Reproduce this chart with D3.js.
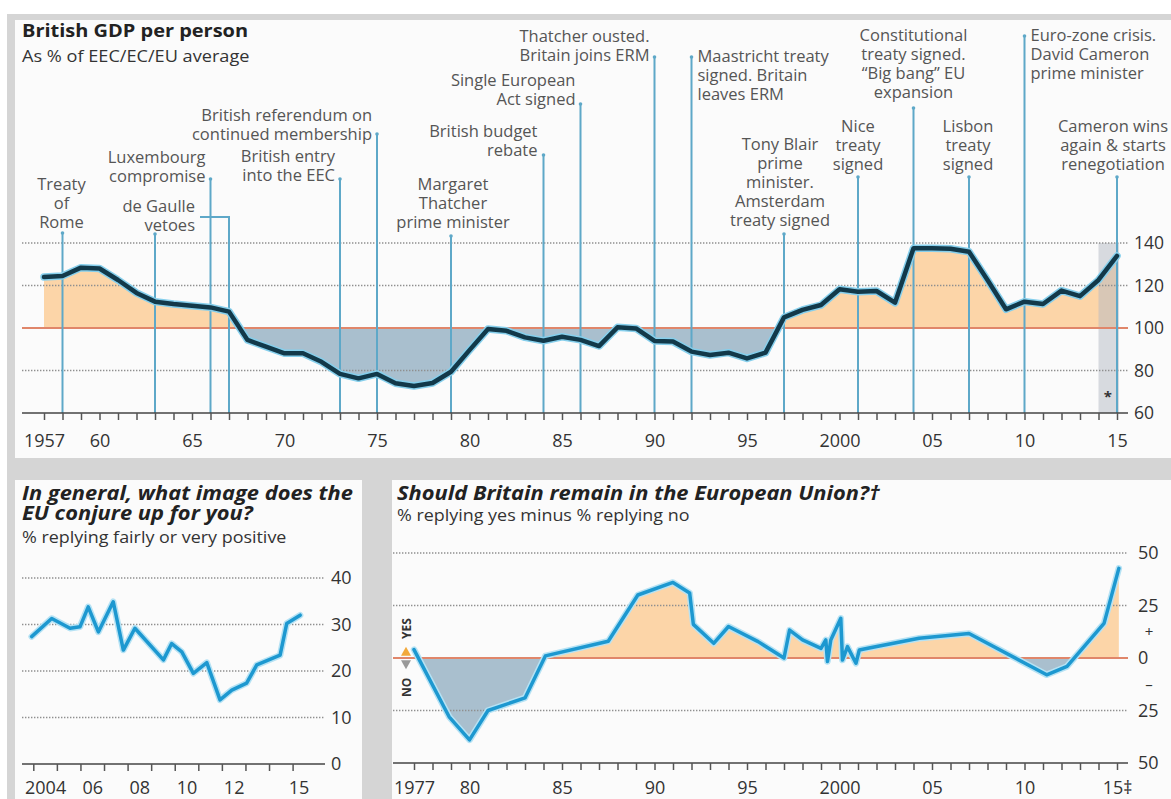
<!DOCTYPE html>
<html>
<head>
<meta charset="utf-8">
<script src="https://cdn.jsdelivr.net/npm/d3@7"></script>
<style>
  body { margin: 0; background: #fff; }
  svg { display: block; }
  text { font-family: "Open Sans", sans-serif; }
</style>
</head>
<body>
<div id="chart"></div>
<script>
// ---- data ----

const gdpYears = [1957, 1958, 1959, 1960, 1961, 1962, 1963, 1964, 1965, 1966,
  1967, 1968, 1969, 1970, 1971, 1972, 1973, 1974, 1975, 1976,
  1977, 1978, 1979, 1980, 1981, 1982, 1983, 1984, 1985, 1986,
  1987, 1988, 1989, 1990, 1991, 1992, 1993, 1994, 1995, 1996,
  1997, 1998, 1999, 2000, 2001, 2002, 2003, 2004, 2005, 2006,
  2007, 2008, 2009, 2010, 2011, 2012, 2013, 2014, 2015];
const gdpValues = [124, 124.5, 128.4, 128, 122.6, 116.5, 112.4, 111.3, 110.5, 109.7,
  107.7, 94.4, 91.2, 88.1, 88.1, 84.1, 78.4, 76.3, 78.4, 74,
  72.7, 74.1, 79.4, 89.6, 99.5, 98.7, 95.6, 94, 95.9, 94.4,
  91.5, 100.3, 99.8, 93.9, 93.6, 88.9, 87.3, 88.4, 85.7, 88.4,
  105, 108.5, 110.8, 118.2, 117.1, 117.4, 111.9, 137.5, 137.5, 137.3,
  135.9, 122.6, 108.8, 112.4, 111.3, 117.6, 115, 122.6, 133.9];
const gdpTickYears = [1957, 1960, 1965, 1970, 1975, 1980, 1985, 1990, 1995, 2000, 2005, 2010, 2015];
const gdpTickLabels = ["1957", "60", "65", "70", "75", "80", "85", "90", "95", "2000", "05", "10", "15"];
const gdpYTicks = [60, 80, 100, 120, 140];

const eventYears = [1958, 1963, 1966, 1973, 1975, 1979, 1984, 1986, 1990, 1992, 1997, 2001, 2004, 2007, 2010, 2015];
const eventLabels = [
  ["Treaty", "of", "Rome"],
  ["de Gaulle", "vetoes"],
  ["Luxembourg", "compromise"],
  ["British entry", "into the EEC"],
  ["British referendum on", "continued membership"],
  ["Margaret", "Thatcher", "prime minister"],
  ["British budget", "rebate"],
  ["Single European", "Act signed"],
  ["Thatcher ousted.", "Britain joins ERM"],
  ["Maastricht treaty", "signed. Britain", "leaves ERM"],
  ["Tony Blair", "prime", "minister.", "Amsterdam", "treaty signed"],
  ["Nice", "treaty", "signed"],
  ["Constitutional", "treaty signed.", "\u201CBig bang\u201D EU", "expansion"],
  ["Lisbon", "treaty", "signed"],
  ["Euro-zone crisis.", "David Cameron", "prime minister"],
  ["Cameron wins", "again & starts", "renegotiation"]
];
const deGaulleSecondVeto = 1967;

const imageDates = [2003.93, 2004.78, 2005.56, 2005.98, 2006.33, 2006.76, 2007.39, 2007.82, 2008.31, 2009.52,
  2009.87, 2010.3, 2010.79, 2011.36, 2011.92, 2012.42, 2013.05, 2013.48, 2014.47, 2014.75, 2015.32];
const imageValues = [27.4, 31.3, 29.2, 29.5, 33.8, 28.4, 34.9, 24.5, 29.2, 22.4,
  25.9, 24.1, 19.5, 21.8, 13.8, 15.9, 17.4, 21.3, 23.4, 30.2, 32];
const imageTickPos = [2004.5, 2006.5, 2008.5, 2010.5, 2012.5, 2015.25];
const imageTickLabels = ["2004", "06", "08", "10", "12", "15"];
const imageYTicks = [0, 10, 20, 30, 40];

const remainDates = [1977, 1978.9, 1980, 1981, 1983, 1984.1, 1987.5, 1989.1, 1991, 1991.9,
  1992.1, 1993.2, 1994, 1995.6, 1997, 1997.3, 1998, 1999, 1999.26, 1999.35,
  1999.53, 2000.07, 2000.16, 2000.43, 2000.89, 2001.07, 2001.6, 2004.3, 2007, 2011.2,
  2012.3, 2014.3, 2015.1];
const remainValues = [4, -28, -39, -25, -19, 1, 8, 30, 36, 31,
  16, 7, 15, 7.8, 0, 13.3, 8.6, 4.6, 8.6, -1.7,
  8.6, 18.9, -1, 5.4, -2.5, 3.8, 4.8, 9.4, 11.7, -8,
  -4, 16.5, 42.7];
const remainTickYears = [1977, 1980, 1985, 1990, 1995, 2000, 2005, 2010, 2015];
const remainTickLabels = ["1977", "80", "85", "90", "95", "2000", "05", "10", "15\u2021"];
const remainYTicks = [50, 25, 0, -25, -50];
const remainYLabels = ["50", "25", "0", "25", "50"];

// ---- layout ----

const W = 1171, H = 799;
const orange = "#fcd5a8", blueFill = "#a9bfce", zeroRed = "#e0866a";
const evColor = "#5ea8c8";

// placement of each event label: anchor, x offset from line, first baseline, top of line
const eventLayout = [
  {anchor: "middle", dx: -1, y0: 190, top: 233},
  {anchor: "end", dx: 40, y0: 212, top: 234},
  {anchor: "end", dx: -5, y0: 163, top: 179},
  {anchor: "end", dx: -5, y0: 162, top: 179},
  {anchor: "end", dx: -5, y0: 121, top: 134},
  {anchor: "middle", dx: 2, y0: 190, top: 236},
  {anchor: "end", dx: -6, y0: 137, top: 155},
  {anchor: "end", dx: -5, y0: 86, top: 104},
  {anchor: "end", dx: -5, y0: 42, top: 57},
  {anchor: "start", dx: 6, y0: 62, top: 57},
  {anchor: "middle", dx: -4, y0: 150, top: 234},
  {anchor: "middle", dx: 0, y0: 132, top: 177},
  {anchor: "middle", dx: 0, y0: 41, top: 108},
  {anchor: "middle", dx: -1, y0: 132, top: 177},
  {anchor: "start", dx: 6, y0: 41, top: 36},
  {anchor: "middle", dx: -4, y0: 132, top: 177}
];

const svg = d3.select("#chart")
  .append("svg")
    .attr("width", W)
    .attr("height", H);

const defs = svg.append("defs");

// background frame and panels
svg.append("rect").attr("width", W).attr("height", H).attr("fill", "#fff");
svg.append("rect").attr("x", 7).attr("y", 14).attr("width", W - 7).attr("height", H - 14).attr("fill", "#d5d5d5");
svg.append("rect").attr("x", 15).attr("y", 20).attr("width", W - 15).attr("height", 438).attr("fill", "#fbfbfb");
svg.append("rect").attr("x", 15).attr("y", 480).attr("width", 347).attr("height", H - 480).attr("fill", "#fbfbfb");
svg.append("rect").attr("x", 392).attr("y", 480).attr("width", W - 392).attr("height", H - 480).attr("fill", "#fbfbfb");

function dotted(g, x1, x2, yy) {
  g.append("line")
      .attr("x1", x1).attr("x2", x2).attr("y1", yy).attr("y2", yy)
      .attr("stroke", "#8f8f8f")
      .attr("stroke-width", 1.6)
      .attr("stroke-dasharray", "1.4 1.6");
}

function solid(g, x1, x2, yy, color, sw) {
  g.append("line")
      .attr("x1", x1).attr("x2", x2).attr("y1", yy).attr("y2", yy)
      .attr("stroke", color)
      .attr("stroke-width", sw);
}

// text that is a little wider than the font draws it
function wideText(g, tx, ty, size, sx, str, bold, italic, color) {
  g.append("text")
      .attr("transform", `translate(${tx},${ty}) scale(${sx},1)`)
      .attr("font-size", size)
      .attr("font-weight", bold ? "bold" : "normal")
      .attr("font-style", italic ? "italic" : "normal")
      .attr("fill", color)
      .text(str);
}

function signedFill(g, xs, ys, dates, values, base, id, yTop, yBottom) {
  const area = d3.area()
      .x((d, i) => xs(dates[i]))
      .y0(ys(base))
      .y1(d => ys(d));
  defs.append("clipPath").attr("id", id + "-up")
    .append("rect").attr("x", 0).attr("y", yTop).attr("width", W).attr("height", ys(base) - yTop);
  defs.append("clipPath").attr("id", id + "-down")
    .append("rect").attr("x", 0).attr("y", ys(base)).attr("width", W).attr("height", yBottom - ys(base));
  g.append("path").datum(values).attr("d", area).attr("fill", orange).attr("clip-path", `url(#${id}-up)`);
  g.append("path").datum(values).attr("d", area).attr("fill", blueFill).attr("clip-path", `url(#${id}-down)`);
}

function drawLine(g, xs, ys, dates, values, color, halo, sw) {
  const line = d3.line()
      .x((d, i) => xs(dates[i]))
      .y(d => ys(d));
  g.append("path").datum(values).attr("d", line)
      .attr("fill", "none").attr("stroke", halo).attr("stroke-width", sw + 3)
      .attr("stroke-linejoin", "round").attr("stroke-linecap", "round");
  g.append("path").datum(values).attr("d", line)
      .attr("fill", "none").attr("stroke", color).attr("stroke-width", sw)
      .attr("stroke-linejoin", "round").attr("stroke-linecap", "round");
}

function styleAxis(g, size, color) {
  g.select(".domain").remove();
  g.selectAll("text")
      .attr("font-family", "Open Sans, sans-serif")
      .attr("font-size", size)
      .attr("fill", color);
}

// ================= top chart =================

const x = d3.scaleLinear().domain([1957, 2015]).range([44, 1117]);
const y = d3.scaleLinear().domain([60, 140]).range([413, 243]);
const upper = svg.append("g");

signedFill(upper, x, y, gdpYears, gdpValues, 100, "gdp", 20, 413);

// forecast band
upper.append("rect")
    .attr("x", x(2014))
    .attr("y", y(140))
    .attr("width", x(2015) - x(2014) + 2)
    .attr("height", y(60) - y(140))
    .attr("fill", "#b4bac3")
    .attr("opacity", 0.5);
upper.append("text")
    .attr("x", x(2014.5))
    .attr("y", 402)
    .attr("text-anchor", "middle")
    .attr("font-size", 15)
    .attr("font-weight", "bold")
    .attr("fill", "#333")
    .text("*");

[80, 120, 140].forEach(v => dotted(upper, 22, 1128, y(v)));
solid(upper, 22, 1128, y(100), zeroRed, 2);

// event lines and labels
eventYears.forEach((yr, i) => {
  const L = eventLayout[i];
  const ex = x(yr);
  upper.append("line")
      .attr("x1", ex).attr("x2", ex)
      .attr("y1", L.top).attr("y2", y(60))
      .attr("stroke", evColor).attr("stroke-width", 2);
  upper.append("circle").attr("cx", ex).attr("cy", L.top).attr("r", 1.8).attr("fill", evColor);
  const t = upper.append("text")
      .attr("text-anchor", L.anchor)
      .attr("font-size", 16.5)
      .attr("fill", "#555");
  eventLabels[i].forEach((s, j) => {
    t.append("tspan").attr("x", ex + L.dx).attr("y", L.y0 + j * 19).text(s);
  });
});
// de Gaulle's second veto shares the label
upper.append("path")
    .attr("d", `M200,217H${x(deGaulleSecondVeto)}V${y(60)}`)
    .attr("fill", "none")
    .attr("stroke", evColor)
    .attr("stroke-width", 2);

drawLine(upper, x, y, gdpYears, gdpValues, "#12394a", "#86cfec", 4.5);

// axis
solid(upper, 22, 1128, y(60), "#444", 1.5);
upper.append("g")
    .attr("transform", `translate(0, ${y(60)})`)
    .call(d3.axisBottom(x).tickValues(gdpYears).tickSize(7).tickSizeOuter(0).tickFormat(""))
    .call(g => { g.select(".domain").remove(); g.selectAll("line").attr("stroke", "#555").attr("stroke-width", 1.5); });
upper.append("g")
    .attr("transform", `translate(0, ${y(60)})`)
    .call(d3.axisBottom(x).tickValues(gdpTickYears).tickSize(0).tickPadding(21)
      .tickFormat((d, i) => gdpTickLabels[i]))
    .call(g => styleAxis(g, 18, "#333"));
upper.append("g")
    .attr("transform", "translate(1134, 0)")
    .call(d3.axisRight(y).tickValues(gdpYTicks).tickSize(0).tickPadding(0))
    .call(g => styleAxis(g, 17.5, "#333"));

wideText(upper, 22, 37, 18, 1.11, "British GDP per person", true, false, "#222");
wideText(upper, 22, 62, 16.5, 1.1, "As % of EEC/EC/EU average", false, false, "#333");

// ================= bottom left =================

const xL = d3.scaleLinear().domain([2004, 2015]).range([33.3, 292.6]);
const yL = d3.scaleLinear().domain([0, 40]).range([764, 578]);
const lower = svg.append("g");

[10, 20, 30, 40].forEach(v => dotted(lower, 22, 325, yL(v)));
solid(lower, 22, 325, yL(0), "#444", 1.5);
lower.append("g")
    .attr("transform", `translate(0, ${yL(0)})`)
    .call(d3.axisBottom(xL).tickValues(d3.range(2004, 2016)).tickSize(7).tickSizeOuter(0).tickFormat(""))
    .call(g => { g.select(".domain").remove(); g.selectAll("line").attr("stroke", "#555").attr("stroke-width", 1.5); });
lower.append("g")
    .attr("transform", `translate(0, ${yL(0)})`)
    .call(d3.axisBottom(xL).tickValues(imageTickPos).tickSize(0).tickPadding(17)
      .tickFormat((d, i) => imageTickLabels[i]))
    .call(g => styleAxis(g, 18, "#333"));
lower.append("g")
    .attr("transform", "translate(331, 0)")
    .call(d3.axisRight(yL).tickValues(imageYTicks).tickSize(0).tickPadding(0))
    .call(g => styleAxis(g, 18, "#333"));

drawLine(lower, xL, yL, imageDates, imageValues, "#1d98d0", "#b5e2f4", 3.5);

wideText(lower, 22, 500, 19, 1.15, "In general, what image does the", true, true, "#222");
wideText(lower, 22, 520, 19, 1.15, "EU conjure up for you?", true, true, "#222");
wideText(lower, 22, 543, 16, 1.12, "% replying fairly or very positive", false, false, "#333");

// ================= bottom right =================

const yR = d3.scaleLinear().domain([-50, 50]).range([763, 553]);
const right = svg.append("g");

signedFill(right, x, yR, remainDates, remainValues, 0, "remain", 540, 763);

[50, 25, -25].forEach(v => dotted(right, 393, 1128, yR(v)));
solid(right, 393, 1128, yR(0), zeroRed, 2);
solid(right, 393, 1128, yR(-50), "#444", 1.5);

right.append("g")
    .attr("transform", `translate(0, ${yR(-50)})`)
    .call(d3.axisBottom(x).tickValues(d3.range(1977, 2016)).tickSize(7).tickSizeOuter(0).tickFormat(""))
    .call(g => { g.select(".domain").remove(); g.selectAll("line").attr("stroke", "#555").attr("stroke-width", 1.5); });
right.append("g")
    .attr("transform", `translate(0, ${yR(-50)})`)
    .call(d3.axisBottom(x).tickValues(remainTickYears).tickSize(0).tickPadding(18)
      .tickFormat((d, i) => remainTickLabels[i]))
    .call(g => styleAxis(g, 18, "#333"));
right.append("g")
    .attr("transform", "translate(1138, 0)")
    .call(d3.axisRight(yR).tickValues(remainYTicks).tickSize(0).tickPadding(0)
      .tickFormat((d, i) => remainYLabels[i]))
    .call(g => styleAxis(g, 18, "#333"));
right.append("text").attr("x", 1149).attr("y", yR(12.5)).attr("dy", "0.35em")
    .attr("text-anchor", "middle").attr("font-size", 15).attr("fill", "#333").text("+");
right.append("text").attr("x", 1149).attr("y", yR(-12.5)).attr("dy", "0.35em")
    .attr("text-anchor", "middle").attr("font-size", 15).attr("fill", "#333").text("\u2013");

drawLine(right, x, yR, remainDates, remainValues, "#1d98d0", "#b5e2f4", 3.5);

// NO / YES marker
right.append("text")
    .attr("transform", `translate(411, ${yR(14)}) rotate(-90)`)
    .attr("text-anchor", "middle")
    .attr("font-size", 12).attr("font-weight", "bold").attr("fill", "#333")
    .text("YES");
right.append("text")
    .attr("transform", `translate(411, ${yR(-14)}) rotate(-90)`)
    .attr("text-anchor", "middle")
    .attr("font-size", 12).attr("font-weight", "bold").attr("fill", "#333")
    .text("NO");
right.append("path")
    .attr("d", `M401,${yR(3) + 4}l5,-9l5,9z`)
    .attr("fill", "#f2a93b");
right.append("path")
    .attr("d", `M401,${yR(-3) - 4}l5,9l5,-9z`)
    .attr("fill", "#999");

wideText(right, 397, 500, 19, 1.15, "Should Britain remain in the European Union?\u2020", true, true, "#222");
wideText(right, 397, 521, 16, 1.12, "% replying yes minus % replying no", false, false, "#333");
</script>
</body>
</html>
